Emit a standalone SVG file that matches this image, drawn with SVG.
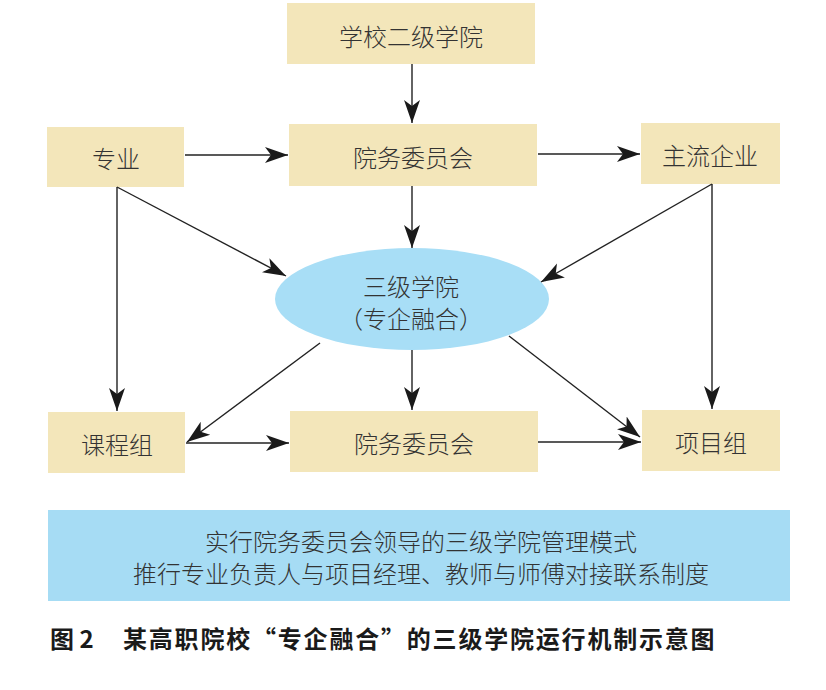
<svg xmlns="http://www.w3.org/2000/svg" width="826" height="690" viewBox="0 0 826 690">
<defs>
<style>
.box{fill:#F3E6BA;}
.t{font-family:"Noto Sans CJK SC","Noto Sans",sans-serif;font-size:24px;font-weight:300;fill:#333;text-anchor:middle;dominant-baseline:central;}
.c{fill:none;stroke:#222;stroke-width:1.4;marker-end:url(#ah);}
.cap{font-family:"Noto Sans CJK SC","Noto Sans",sans-serif;font-size:24px;font-weight:700;fill:#1a1a1a;dominant-baseline:central;}
</style>
<marker id="ah" markerUnits="userSpaceOnUse" markerWidth="24" markerHeight="18" refX="23" refY="8" orient="auto" viewBox="0 0 24 16">
<path d="M0,0 L23,8 L0,16 L6,8 Z" fill="#1a1a1a"/>
</marker>
</defs>
<rect width="826" height="690" fill="#fff"/>
<g id="n-school">
<rect class="box" x="287" y="3" width="248" height="61"/>
<text class="t" x="411" y="35">学校二级学院</text>
</g>
<g id="n-council-top">
<rect class="box" x="289" y="124" width="248" height="62"/>
<text class="t" x="413" y="156">院务委员会</text>
</g>
<g id="n-major">
<rect class="box" x="47" y="127" width="137" height="60"/>
<text class="t" x="116" y="157">专业</text>
</g>
<g id="n-enterprise">
<rect class="box" x="641" y="123" width="139" height="61"/>
<text class="t" x="710" y="154">主流企业</text>
</g>
<g id="n-college">
<ellipse cx="412" cy="299" rx="137" ry="51" fill="#A8DEF6"/>
<text class="t" x="411" y="285">三级学院</text>
<text class="t" x="411" y="317">（专企融合）</text>
</g>
<g id="n-course">
<rect class="box" x="48" y="412" width="137" height="61"/>
<text class="t" x="117" y="443">课程组</text>
</g>
<g id="n-council-bottom">
<rect class="box" x="290" y="411" width="248" height="61"/>
<text class="t" x="414" y="442">院务委员会</text>
</g>
<g id="n-project">
<rect class="box" x="642" y="410" width="138" height="61"/>
<text class="t" x="711" y="441">项目组</text>
</g>
<g id="connectors">
<line class="c" x1="412" y1="64" x2="412" y2="123"/>
<line class="c" x1="185" y1="155" x2="288" y2="155"/>
<line class="c" x1="538" y1="154" x2="640" y2="154"/>
<line class="c" x1="412" y1="186" x2="412" y2="248"/>
<line class="c" x1="117" y1="187" x2="286" y2="276"/>
<line class="c" x1="712" y1="184" x2="541" y2="282"/>
<line class="c" x1="117" y1="187" x2="117" y2="411"/>
<line class="c" x1="712" y1="184" x2="712" y2="409"/>
<line class="c" x1="412" y1="350" x2="412" y2="410"/>
<line class="c" x1="320" y1="343" x2="187" y2="442"/>
<line class="c" x1="509" y1="336" x2="640" y2="437"/>
<line class="c" x1="186" y1="443" x2="289" y2="443"/>
<line class="c" x1="538" y1="442" x2="641" y2="442"/>
</g>
<g id="n-summary">
<rect x="48" y="510" width="742" height="91" fill="#A6DCF4"/>
<text class="t" x="421" y="540">实行院务委员会领导的三级学院管理模式</text>
<text class="t" x="421" y="572">推行专业负责人与项目经理、教师与师傅对接联系制度</text>
</g>
<g id="caption">
<text class="cap" x="50" y="637">图 2</text>
<text class="cap" x="123" y="637" letter-spacing="1.8">某高职院校“专企融合”的三级学院运行机制示意图</text>
</g>
</svg>
